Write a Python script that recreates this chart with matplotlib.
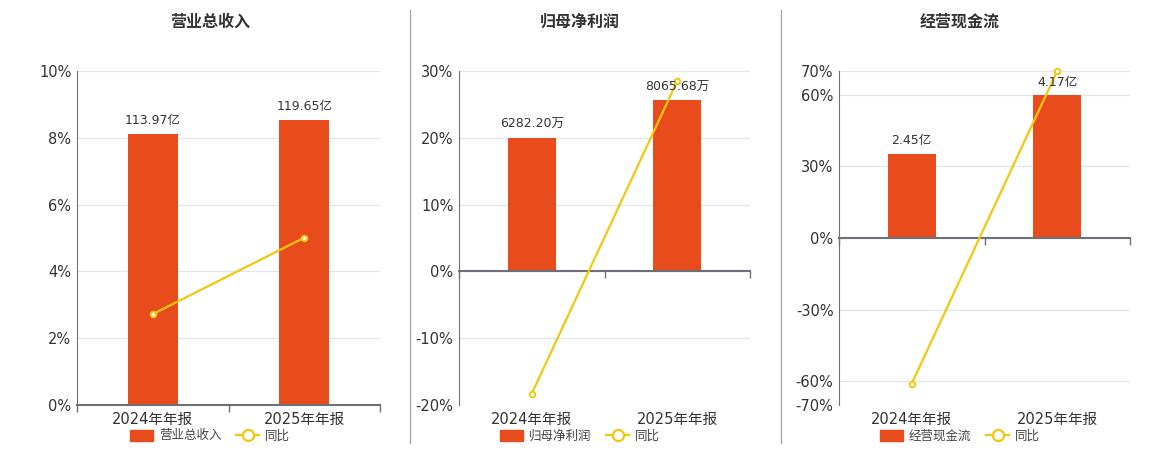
import matplotlib
matplotlib.use("Agg")
import matplotlib.pyplot as plt
from matplotlib.patches import Patch
from matplotlib.lines import Line2D

plt.rcParams['font.family'] = ['DejaVu Sans', 'Noto Sans CJK SC']

# data
periods = ['2024年年报', '2025年年报']

titles = ['营业总收入', '归母净利润', '经营现金流']
bar_values = [[113.97, 119.65], [6282.20, 8065.68], [2.45, 4.17]]
bar_labels = [['113.97亿', '119.65亿'], ['6282.20万', '8065.68万'], ['2.45亿', '4.17亿']]
yoy = [[2.72, 5.01], [-18.3, 28.5], [-61.0, 70.0]]

y_ticks = [[0, 2, 4, 6, 8, 10], [-20, -10, 0, 10, 20, 30], [-70, -60, -30, 0, 30, 60, 70]]
# bar value that matches the top of the % axis (hidden second axis)
bar_top = [140.4, 9450, 4.886]

BAR_C = '#e84c1d'
LINE_C = '#f2c80f'
AXIS_C = '#6e7079'
GRID_C = '#e0e6f1'
TEXT_C = '#333333'

W, H = 1160, 450
fig = plt.figure(figsize=(W / 100, H / 100), dpi=100)

ax_left = [77, 459, 839]
ax_right = [380, 750, 1130]
ax_top, ax_bot = 71, 405
centers = [210, 580, 960]

for i in range(3):
    l, r = ax_left[i], ax_right[i]
    ax = fig.add_axes([l / W, (H - ax_bot) / H, (r - l) / W, (ax_bot - ax_top) / H])
    ymin, ymax = y_ticks[i][0], y_ticks[i][-1]
    ax.set_xlim(-0.5, 1.5)
    ax.set_ylim(ymin, ymax)

    # grid + y axis on the % axis (drawn first)
    ax.set_yticks(y_ticks[i])
    ax.set_yticklabels([f'{t}%' for t in y_ticks[i]])
    ax.tick_params(axis='y', length=0, pad=4, labelsize=10.5, labelcolor=TEXT_C)
    ax.grid(axis='y', color=GRID_C, linewidth=0.9)
    ax.set_axisbelow(True)
    ax.spines['top'].set_visible(False)
    ax.spines['right'].set_visible(False)
    ax.spines['bottom'].set_visible(False)
    ax.spines['left'].set_color(AXIS_C)
    ax.tick_params(axis='x', length=0, labelbottom=False)

    x = list(range(len(periods)))
    sec = ax.secondary_xaxis(0)
    sec.set_xticks(x)
    sec.set_xticklabels(periods)
    sec.tick_params(length=0, pad=5, labelsize=10.5, labelcolor=TEXT_C)
    sec.spines['bottom'].set_visible(False)

    # hidden axis for bars, scaled so 0 lines up with 0%
    axb = ax.twinx()
    axb.set_ylim(bar_top[i] * ymin / ymax, bar_top[i])
    axb.patch.set_visible(False)
    for s in ['top', 'right', 'left']:
        axb.spines[s].set_visible(False)
    axb.set_yticks([])
    axb.xaxis.set_visible(True)
    axb.spines['bottom'].set_color(AXIS_C)
    axb.spines['bottom'].set_linewidth(1.5)
    axb.spines['bottom'].set_position(('data', 0))
    axb.spines['bottom'].set_zorder(3)
    axb.set_xticks([-0.5, 0.5, 1.5])
    axb.tick_params(axis='x', length=5, width=1, color=AXIS_C, direction='out',
                    labelbottom=False)

    axb.bar(x, bar_values[i], width=0.33, color=BAR_C, zorder=2)
    for xi, v, lab in zip(x, bar_values[i], bar_labels[i]):
        axb.annotate(lab, (xi, v), xytext=(0, 5), textcoords='offset points',
                     ha='center', va='bottom', fontsize=9, color=TEXT_C, zorder=5)

    # yoy line drawn in % coordinates, on top of the bars
    axb.plot(x, yoy[i], transform=ax.transData, color=LINE_C, linewidth=1.6,
             marker='o', markersize=4, markerfacecolor='white',
             markeredgecolor=LINE_C, markeredgewidth=1.4, zorder=4, clip_on=False)

    fig.text(centers[i] / W, 1 - 22 / H, titles[i], ha='center', va='center',
             fontsize=11.5, fontweight='bold', color=TEXT_C)

    handles = [Patch(facecolor=BAR_C, edgecolor=BAR_C),
               Line2D([0], [0], color=LINE_C, lw=1.6, marker='o', markersize=8,
                      markerfacecolor='white', markeredgewidth=1.6)]
    fig.legend(handles, [titles[i], '同比'], loc='center', ncol=2,
               bbox_to_anchor=(centers[i] / W, 1 - 436 / H), frameon=False,
               fontsize=9, handlelength=1.8, handleheight=1.0, columnspacing=1.2,
               handletextpad=0.5, labelcolor='#444444')

# panel separators
for xs in [410, 781]:
    fig.add_artist(Line2D([xs / W, xs / W], [1 - 10 / H, 1 - 443 / H],
                          color='#aaaaaa', linewidth=1))

fig.savefig('out.png', dpi=100)
